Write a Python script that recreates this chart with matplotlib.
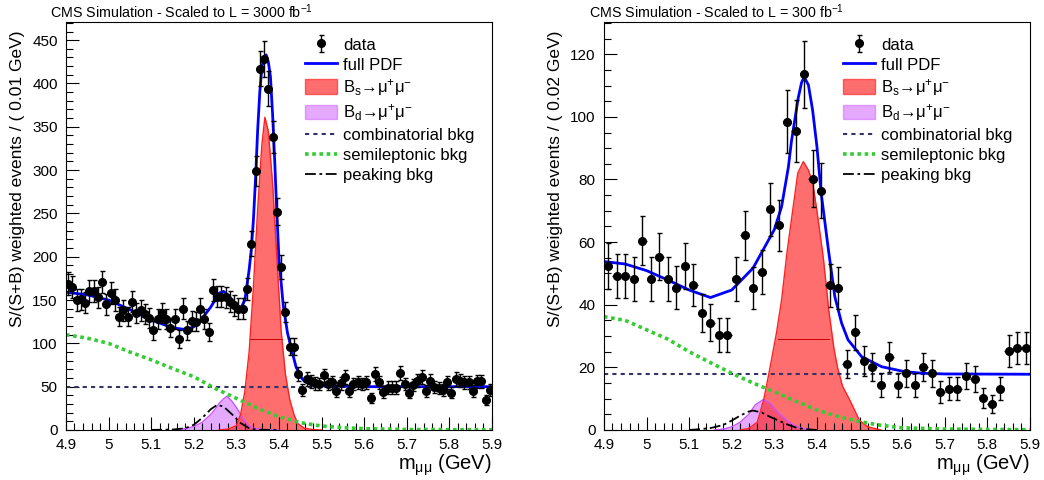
import numpy as np
import matplotlib
matplotlib.use("Agg")
import matplotlib.pyplot as plt
from matplotlib.ticker import MultipleLocator, FormatStrFormatter
from matplotlib.patches import Patch
from matplotlib.lines import Line2D

plt.rcParams['font.family'] = ['Liberation Sans', 'DejaVu Sans']
plt.rcParams['mathtext.fontset'] = 'custom'
plt.rcParams['mathtext.rm'] = 'Liberation Sans'
plt.rcParams['mathtext.it'] = 'Liberation Sans'
plt.rcParams['mathtext.default'] = 'regular'

# ---- left panel: 3000 fb-1, bins of 0.01 GeV
bins_l = np.arange(4.905, 5.9, 0.01)
data_l = [169, 165, 150, 151, 147, 160, 160, 153, 171, 145,
          158, 150, 131, 138, 131, 148, 135, 138, 134, 129,
          115, 128, 135, 128, 118, 128, 105, 140, 115, 126,
          125, 140, 128, 113, 162, 154, 154, 153, 148, 144,
          140, 140, 163, 215, 299, 417, 428, 394, 338, 252,
          188, 136, 96, 96, 65, 46, 59, 56, 54, 53,
          63, 53, 55, 45, 54, 61, 45, 53, 55, 53,
          55, 37, 65, 55, 44, 49, 49, 49, 66, 53,
          43, 52, 57, 61, 45, 57, 50, 48, 46, 55,
          43, 59, 57, 55, 55, 45, 56, 56, 35, 46]

pdf_l_x = [4.90, 4.95, 5.00, 5.05, 5.10, 5.15, 5.18, 5.20, 5.22, 5.24, 5.26, 5.27, 5.28,
           5.30, 5.31, 5.32, 5.33, 5.335, 5.34, 5.345, 5.35, 5.355, 5.36, 5.365, 5.37,
           5.375, 5.38, 5.385, 5.39, 5.395, 5.40, 5.41, 5.42, 5.43, 5.44, 5.45, 5.46,
           5.48, 5.50, 5.60, 5.90]
pdf_l_y = [159, 156, 150, 139, 127, 118, 116, 119, 129, 142, 158, 160, 156,
           145, 140, 150, 185, 208, 242, 290, 346, 390, 419, 430, 433,
           425, 408, 365, 311, 250, 198, 144, 112, 92, 73, 62, 56,
           52, 51, 50, 50]
bs_l_x = [5.26, 5.28, 5.30, 5.31, 5.32, 5.33, 5.34, 5.35, 5.36, 5.367, 5.375, 5.385,
          5.395, 5.405, 5.415, 5.425, 5.435, 5.445, 5.46, 5.48, 5.50]
bs_l_y = [0, 1, 5, 18, 45, 90, 165, 255, 330, 361, 345, 285,
          200, 115, 65, 36, 18, 7, 2, 0.5, 0]
bd_l_x = [5.15, 5.18, 5.20, 5.22, 5.24, 5.25, 5.26, 5.27, 5.278, 5.29, 5.30, 5.31,
          5.32, 5.33, 5.34, 5.36, 5.40]
bd_l_y = [0, 1.5, 4, 9, 18, 24, 31, 36, 39, 33, 26, 18, 10, 5, 2, 0.5, 0]
pk_l_x = [5.10, 5.15, 5.18, 5.20, 5.22, 5.24, 5.255, 5.27, 5.29, 5.31, 5.33, 5.35, 5.40]
pk_l_y = [0.1, 0.5, 2, 6, 14, 24, 29, 27, 18, 8, 2, 0.3, 0]
sl_l_x = [4.90, 4.95, 5.00, 5.05, 5.10, 5.15, 5.20, 5.25, 5.30, 5.35, 5.40, 5.45,
          5.50, 5.55, 5.60, 5.70, 5.90]
sl_l_y = [110, 106, 100, 90, 81, 71, 61.5, 48, 36.5, 25, 15.4, 8.5, 4.6, 2.7, 1.5, 0.6, 0.3]
comb_l = 50
bsline_l = (104.6, 5.332, 5.406)

# ---- right panel: 300 fb-1, bins of 0.02 GeV
bins_r = np.arange(4.91, 5.9, 0.02)
data_r = [52.4, 49.2, 49.2, 48.3, 60.5, 48.3, 55.4, 48.3, 45.5, 52.4,
          46.3, 37.3, 34.3, 30.4, 30.4, 48.3, 62.2, 45.4, 50.5, 70.5,
          65.4, 98.5, 95.5, 113.6, 80.3, 76.4, 46.2, 45.4, 21.1, 31.2,
          22.1, 20.2, 14.3, 23.2, 14.3, 18.1, 14.3, 20.2, 18.1, 12.2,
          13.2, 13.2, 17.3, 16.3, 10.2, 8.3, 13.2, 25.3, 26.2, 26.2]

pdf_r_x = [4.90, 4.95, 5.00, 5.05, 5.10, 5.15, 5.20, 5.25, 5.30, 5.317, 5.333, 5.34,
           5.348, 5.356, 5.364, 5.37, 5.38, 5.39, 5.40, 5.41, 5.427, 5.442, 5.458,
           5.473, 5.505, 5.552, 5.607, 5.65, 5.70, 5.90]
pdf_r_y = [53.8, 53, 50.9, 47.9, 44.7, 42.3, 44.7, 51.7, 64, 71.3, 84, 92,
           99, 106, 111, 112.7, 110.2, 102, 90.5, 75.6, 57.5, 42.6, 34.1,
           28.8, 23.4, 20.2, 18.6, 18.1, 17.9, 17.8]
bs_r_x = [5.22, 5.24, 5.26, 5.275, 5.29, 5.305, 5.317, 5.33, 5.343, 5.355, 5.368,
          5.38, 5.39, 5.40, 5.415, 5.428, 5.44, 5.448, 5.46, 5.477, 5.50, 5.52, 5.55]
bs_r_y = [0, 0.5, 2.5, 9.6, 20, 31, 41.5, 57, 70, 82, 85.7,
          83, 79, 70, 55, 38, 26, 20.2, 14, 9.6, 3, 1, 0]
bd_r_x = [5.16, 5.18, 5.20, 5.22, 5.24, 5.255, 5.275, 5.29, 5.31, 5.33, 5.35, 5.37, 5.40]
bd_r_y = [0, 0.3, 1, 2.5, 5, 8, 9.8, 8.5, 5.5, 3, 1.2, 0.4, 0]
pk_r_x = [5.10, 5.12, 5.15, 5.18, 5.20, 5.22, 5.24, 5.25, 5.27, 5.29, 5.31, 5.33,
          5.35, 5.37, 5.40]
pk_r_y = [0, 0.2, 0.6, 1.6, 3, 4.6, 5.9, 6.2, 5.6, 4.2, 3, 1.8, 0.8, 0.3, 0]
sl_r_x = [4.90, 4.95, 5.00, 5.05, 5.10, 5.15, 5.20, 5.25, 5.30, 5.35, 5.40, 5.45,
          5.50, 5.55, 5.60, 5.70, 5.90]
sl_r_y = [36.2, 35, 32, 29, 25, 21.5, 18.1, 15, 12.2, 9.2, 6.4, 4.3, 2.7, 1.5, 0.7, 0.3, 0.1]
comb_r = 17.8
bsline_r = (29, 5.308, 5.428)

labels = ['data', 'full PDF', 'B$_{s}$\u2192\u03bc$^{+}$\u03bc$^{-}$',
          'B$_{d}$\u2192\u03bc$^{+}$\u03bc$^{-}$', 'combinatorial bkg',
          'semileptonic bkg', 'peaking bkg']

RED = '#ff2020'
VIOLET = '#cc55ff'
BLUE = '#0000ff'
GREEN = '#33cc33'
NAVY = '#333366'


def panel(ax, bins, data, bw, pdf, bs, bd, pk, sl, comb, bsline, ymax, ystep, yminor,
          ylabel, title_x, title):
    ax.fill_between(bd[0], bd[1], color=VIOLET, alpha=0.5, lw=0)
    ax.plot(bd[0], bd[1], color=VIOLET, lw=1)
    ax.fill_between(bs[0], bs[1], color=RED, alpha=0.65, lw=0)
    ax.plot(bs[0], bs[1], color=RED, lw=1)
    ax.plot([bsline[1], bsline[2]], [bsline[0], bsline[0]], color='#cc0000', lw=0.7)
    ax.axhline(comb, color=NAVY, lw=1.5, ls=(0, (2, 2)))
    ax.plot(sl[0], sl[1], color=GREEN, lw=2.6, ls=(0, (1, 1)))
    ax.plot(pk[0], pk[1], color='black', lw=1.3, ls=(0, (6, 2, 1.5, 2)))
    ax.plot(pdf[0], pdf[1], color=BLUE, lw=2)
    d = np.array(data, dtype=float)
    ax.errorbar(bins, d, xerr=bw / 2, fmt='none', ecolor='black', elinewidth=1, capsize=0)
    eb = ax.errorbar(bins, d, yerr=np.sqrt(d), fmt='o', color='black', ms=5.5,
                     elinewidth=1, capsize=1.8, capthick=1)

    ax.set_xlim(4.9, 5.9)
    ax.set_ylim(0, ymax)
    ax.xaxis.set_major_locator(MultipleLocator(0.1))
    ax.xaxis.set_minor_locator(MultipleLocator(0.02))
    ax.xaxis.set_major_formatter(FormatStrFormatter('%g'))
    ax.yaxis.set_major_locator(MultipleLocator(ystep))
    ax.yaxis.set_minor_locator(MultipleLocator(yminor))
    ax.tick_params(which='both', direction='in', top=False, right=False, labelsize=11)
    ax.tick_params(which='major', length=9.5, width=0.8, pad=6)
    ax.tick_params(which='minor', length=4.7, width=0.8)
    for s in ax.spines.values():
        s.set_linewidth(0.8)
    ax.set_xlabel('m$_{\u03bc\u03bc}$ (GeV)', fontsize=14.5, loc='right', labelpad=0)
    ax.set_ylabel(ylabel, fontsize=12.5, loc='top', labelpad=5)
    ax.yaxis.label.set_y(0.98)

    handles = [eb,
               Line2D([], [], color=BLUE, lw=2),
               Patch(facecolor=RED, alpha=0.65, edgecolor=RED),
               Patch(facecolor=VIOLET, alpha=0.5, edgecolor=VIOLET),
               Line2D([], [], color=NAVY, lw=1.5, ls=(0, (2, 2))),
               Line2D([], [], color=GREEN, lw=2.6, ls=(0, (1, 1))),
               Line2D([], [], color='black', lw=1.3, ls=(0, (6, 2, 1.5, 2)))]
    ax.legend(handles, labels, loc='upper left', bbox_to_anchor=(0.545, 0.98),
              frameon=False, fontsize=12, handlelength=1.95, handleheight=0.95,
              labelspacing=0.25, handletextpad=0.35, borderaxespad=0)
    ax.figure.text(title_x, 0.963, title, fontsize=10.3)


fig = plt.figure(figsize=(10.44, 4.8), dpi=100)
ax1 = fig.add_axes([0.0632, 0.1042, 0.408, 0.85])
ax2 = fig.add_axes([0.5785, 0.1042, 0.408, 0.85])

panel(ax1, bins_l, data_l, 0.01, (pdf_l_x, pdf_l_y), (bs_l_x, bs_l_y), (bd_l_x, bd_l_y),
      (pk_l_x, pk_l_y), (sl_l_x, sl_l_y), comb_l, bsline_l, 471, 50, 10,
      'S/(S+B) weighted events / ( 0.01 GeV)', 0.048,
      'CMS Simulation - Scaled to L = 3000 fb$^{-1}$')
panel(ax2, bins_r, data_r, 0.02, (pdf_r_x, pdf_r_y), (bs_r_x, bs_r_y), (bd_r_x, bd_r_y),
      (pk_r_x, pk_r_y), (sl_r_x, sl_r_y), comb_r, bsline_r, 130.3, 20, 5,
      'S/(S+B) weighted events / ( 0.02 GeV)', 0.564,
      'CMS Simulation - Scaled to L = 300 fb$^{-1}$')

fig.savefig('out.png', dpi=100)
